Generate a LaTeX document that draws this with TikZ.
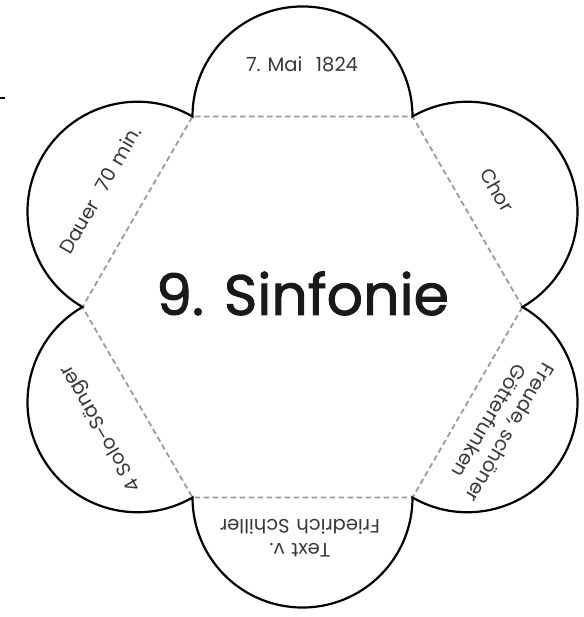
\documentclass[tikz,border=0pt]{standalone}
\usepackage{fontspec}
\usepackage{xcolor}
\usepackage{tikz}
\setmainfont{Poppins}
\definecolor{foldgrey}{RGB}{155,155,155}
\definecolor{textgrey}{RGB}{55,55,55}
\definecolor{titleblack}{RGB}{25,25,25}
\newcommand{\gap}{\hspace{0.35em}}

\begin{document}
\begin{tikzpicture}[x=1pt, y=1pt,
		petaltext/.style={text=textgrey, font=\fontsize{19.5}{24}\selectfont, align=center, inner sep=0pt},
		foldline/.style={foldgrey, line width=1.8pt, dash pattern=on 5.5pt off 3.5pt}]
	\useasboundingbox (0,0) rectangle (583,617);
	\coordinate (c) at (302.5,310);
	\foreach \a [count=\i from 0] in {0,60,...,300}
		\coordinate (v\i) at ([shift={(c)}]\a:220);
	% fold lines
	\draw[foldline] (v0) -- (v1) -- (v2) -- (v3) -- (v4) -- (v5) -- cycle;
	% petals
	\draw[line width=2.2pt, line join=miter] (v0) \foreach \a in {0,60,...,300} {arc[start angle=\a-60, end angle=\a+120, radius=110]} -- cycle;
	% cut mark
	\coordinate (markl) at (0,519.2);
	\coordinate (markr) at (4.7,519.2);
	\draw[line width=2.3pt] (markl) -- (markr);
	% texts
	\node[font=\fontsize{57}{60}\selectfont\addfontfeatures{FakeBold=1.6}, text=titleblack, anchor=base] (title) at (302.5,302) {9.\gap Sinfonie};
	\node[petaltext] (datum) at (302,553) {7.\gap Mai\gap\gap 1824};
	\node[petaltext, rotate=-60] (chor) at (497,427) {Chor};
	\node[petaltext, rotate=-120] (freude) at (500,190) {Freude,\gap schöner\\Götterfunken};
	\node[petaltext, rotate=180] (text) at (300,79) {Text\gap v.\\Friedrich\gap Schiller};
	\node[petaltext, rotate=120] (solo) at (102,189) {4\gap Solo--Sänger};
	\node[petaltext, rotate=60] (dauer) at (100,427) {Dauer\gap\gap 70\gap min.};
\end{tikzpicture}
\end{document}
